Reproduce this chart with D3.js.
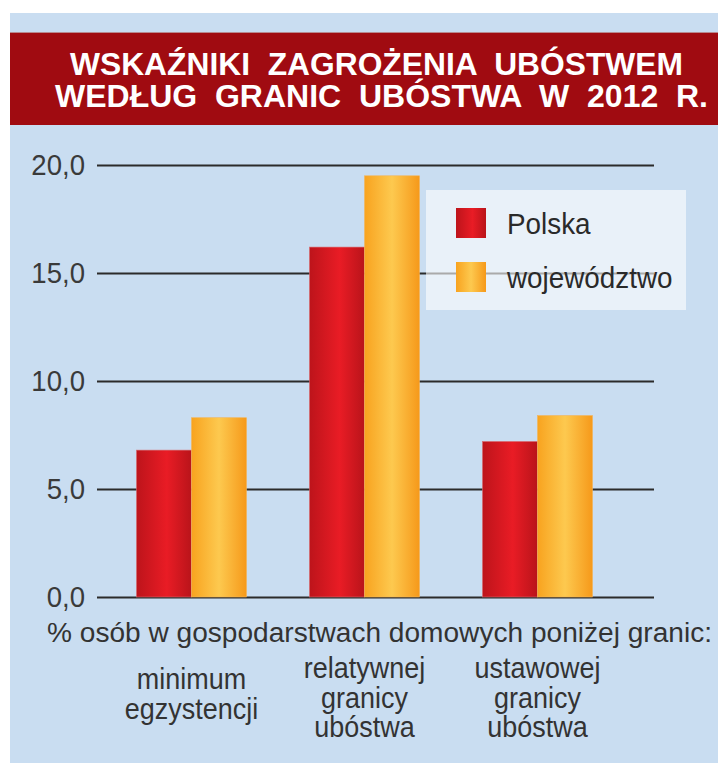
<!DOCTYPE html>
<html>
<head>
<meta charset="utf-8">
<script src="https://cdn.jsdelivr.net/npm/d3@7"></script>
<style>
body {margin:0; background:#fff;}
text {font-family: "Liberation Sans", Arial, sans-serif;}
</style>
</head>
<body>
<div id="chart"></div>
<script>
// wskazniki zagrozenia ubostwem - wykres slupkowy

var categories = [["minimum", "egzystencji"], ["relatywnej", "granicy", "ubóstwa"], ["ustawowej", "granicy", "ubóstwa"]];
var series = ["Polska", "województwo"];
var polska = [6.8, 16.2, 7.2];
var wojewodztwo = [8.3, 19.5, 8.4];
var yTicks = [0, 5, 10, 15, 20];
var titleLines = ["WSKAŹNIKI  ZAGROŻENIA  UBÓSTWEM", "WEDŁUG  GRANIC  UBÓSTWA  W  2012  R."];
var axisNote = "% osób w gospodarstwach domowych poniżej granic:";

var width = 718, height = 763;
var svg = d3.select("#chart").append("svg")
    .attr("width", width)
    .attr("height", height);

var defs = svg.append("defs");
function grad(id, stops) {
    var g = defs.append("linearGradient").attr("id", id)
	.attr("x1", "0%").attr("x2", "100%").attr("y1", "0%").attr("y2", "0%");
    stops.forEach(function(s) {
	g.append("stop").attr("offset", s[0]).attr("stop-color", s[1]);
    });
}
grad("gRed", [["0%", "#bd141b"], ["55%", "#e91c25"], ["100%", "#b9141a"]]);
grad("gOrange", [["0%", "#f8a31f"], ["50%", "#fdc94f"], ["100%", "#f6991a"]]);
var fills = ["url(#gRed)", "url(#gOrange)"];

// zweza tekst w poziomie (oryginal ma wezszy krój)
function condense(sel, f) {
    sel.each(function() {
	var w = this.getComputedTextLength();
	d3.select(this).attr("textLength", w * f).attr("lengthAdjust", "spacingAndGlyphs");
    });
}

// tlo
svg.append("rect").attr("x", 10).attr("y", 13).attr("width", width - 10).attr("height", height - 13)
    .attr("fill", "#c9ddf1");
svg.append("rect").attr("x", 10).attr("y", 32).attr("width", width - 10).attr("height", 93)
    .attr("fill", "#a00b11");
svg.append("line").attr("x1", 10).attr("x2", width).attr("y1", 32.5).attr("y2", 32.5)
    .attr("stroke", "#b88a90").attr("stroke-width", 1);

var titleY = [75, 107], titleX = [[70, 683], [55, 708]];
titleLines.forEach(function(t, i) {
    svg.append("text")
	.attr("x", titleX[i][0]).attr("y", titleY[i])
	.attr("textLength", titleX[i][1] - titleX[i][0])
	.attr("lengthAdjust", "spacingAndGlyphs")
	.attr("fill", "#fff")
	.attr("font-weight", "bold")
	.attr("font-size", 31)
	.style("white-space", "pre")
	.text(t);
});

var y = d3.scaleLinear().domain([0, 20]).range([597, 165]);
var x0 = d3.scaleBand().domain(d3.range(categories.length)).range([105, 624])
    .paddingInner(0.364).paddingOuter(0.182);
var x1 = d3.scaleBand().domain(d3.range(series.length)).range([0, x0.bandwidth()]).padding(0);

// siatka + os
var yAxis = d3.axisLeft(y).tickValues(yTicks)
    .tickSize(-(654 - 97))
    .tickPadding(12)
    .tickFormat(function(d){ return d3.format(".1f")(d).replace(".", ","); });
var ga = svg.append("g").attr("transform", "translate(97,0)").call(yAxis);
ga.select(".domain").remove();
ga.selectAll(".tick line").attr("stroke", "#2b2b2b").attr("stroke-width", 2);
ga.selectAll(".tick text").attr("fill", "#3a3a3a").attr("font-size", 29)
    .attr("font-family", "Liberation Sans, Arial, sans-serif");
condense(ga.selectAll(".tick text"), 0.95);

// slupki
var rows = [];
categories.forEach(function(c, i) {
    rows.push({cat: i, s: 0, v: polska[i]});
    rows.push({cat: i, s: 1, v: wojewodztwo[i]});
});
svg.append("g").selectAll("rect").data(rows).enter().append("rect")
    .attr("x", function(d){ return x0(d.cat) + x1(d.s); })
    .attr("y", function(d){ return y(d.v); })
    .attr("width", x1.bandwidth())
    .attr("height", function(d){ return y(0) - y(d.v); })
    .attr("fill", function(d){ return fills[d.s]; })
    .attr("stroke", function(d){ return d.s ? "#f2b45a" : "#d76a6e"; })
    .attr("stroke-width", 0.6);

// legenda
var lg = svg.append("g").attr("transform", "translate(426,190)");
lg.append("rect").attr("width", 260).attr("height", 120)
    .attr("fill", "#ffffff").attr("fill-opacity", 0.6);
series.forEach(function(s, i) {
    lg.append("rect").attr("x", 30).attr("y", 18 + i * 54).attr("width", 30).attr("height", 30)
	.attr("fill", fills[i]);
    var t = lg.append("text").attr("x", 81).attr("y", 44 + i * 54)
	.attr("font-size", 29).attr("fill", "#2a2a2a").text(s);
    condense(t, 0.96);
});

// podpisy
svg.append("text").attr("x", 47).attr("y", 642)
    .attr("textLength", 665).attr("lengthAdjust", "spacingAndGlyphs")
    .attr("font-size", 27).attr("fill", "#333").text(axisNote);

categories.forEach(function(lines, i) {
    var cx = x0(i) + x0.bandwidth() / 2;
    var start = lines.length == 2 ? 689 : 678;
    lines.forEach(function(l, j) {
	var t = svg.append("text").attr("text-anchor", "middle")
	    .attr("x", cx).attr("y", start + j * 29.5)
	    .attr("font-size", 29).attr("fill", "#333").text(l);
	condense(t, 0.93);
    });
});
</script>
</body>
</html>
